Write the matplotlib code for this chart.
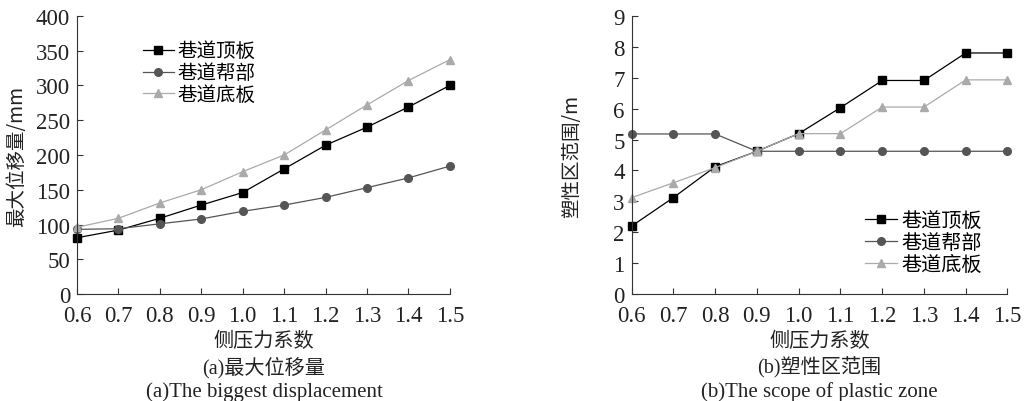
import matplotlib
matplotlib.use("Agg")
import matplotlib.pyplot as plt

plt.rcParams['font.family'] = ['Liberation Serif', 'Noto Sans CJK SC']
plt.rcParams['mathtext.fontset'] = 'stix'

k = [0.6, 0.7, 0.8, 0.9, 1.0, 1.1, 1.2, 1.3, 1.4, 1.5]
xtick_labels = ['0.6', '0.7', '0.8', '0.9', '1.0', '1.1', '1.2', '1.3', '1.4', '1.5']
series_names = ['巷道顶板', '巷道帮部', '巷道底板']

disp_roof = [81, 92, 109, 128, 146, 180, 214, 240, 269, 300]
disp_side = [93, 94, 101, 108, 119, 128, 139, 153, 167, 184]
disp_floor = [96, 109, 131, 150, 176, 200, 236, 272, 307, 337]

plastic_roof = [2.2, 3.12, 4.12, 4.62, 5.19, 6.03, 6.91, 6.91, 7.8, 7.8]
plastic_side = [5.18, 5.18, 5.18, 4.62, 4.62, 4.62, 4.62, 4.62, 4.62, 4.62]
plastic_floor = [3.12, 3.6, 4.09, 4.62, 5.19, 5.19, 6.05, 6.05, 6.93, 6.93]

colors = ['#000000', '#555555', '#aaaaaa']
markers = ['s', 'o', '^']
cjk = ['Noto Sans CJK SC']

fig = plt.figure(figsize=(10.27, 4.02), dpi=100)
ax1 = fig.add_axes([0.075, 0.266, 0.363, 0.692])
ax2 = fig.add_axes([0.615, 0.266, 0.366, 0.692])

def style(ax, ylim, yticks):
    ax.set_xlim(0.6, 1.5)
    ax.set_ylim(*ylim)
    ax.set_yticks(yticks)
    ax.set_xticks(k)
    ax.set_xticklabels(xtick_labels)
    for s in ['top', 'right']:
        ax.spines[s].set_visible(False)
    for s in ['left', 'bottom']:
        ax.spines[s].set_linewidth(0.8)
        ax.spines[s].set_color('#333333')
    ax.tick_params(direction='in', length=4, width=0.8, labelsize=16.5, colors='#333333', labelcolor='#222222')
    ax.tick_params(axis='x', pad=8)
    ax.tick_params(axis='y', pad=5)
    ax.set_xlabel('侧压力系数', fontsize=14.5, family=cjk, color='#222222', labelpad=3)

for d, c, m, n in zip([disp_roof, disp_side, disp_floor], colors, markers, series_names):
    ax1.plot(k, d, color=c, marker=m, markersize=5.5, linewidth=0.9, label=n, clip_on=False)
style(ax1, (0, 400), range(0, 401, 50))
ax1.set_ylabel('最大位移量/mm', fontsize=14, family=cjk, color='#222222', labelpad=6)
leg1 = ax1.legend(loc='upper left', bbox_to_anchor=(0.155, 0.94), frameon=False, handlelength=1.6,
                  handletextpad=0.2, labelspacing=0.05, borderaxespad=0, prop={'family': cjk, 'size': 14})

for d, c, m, n in zip([plastic_roof, plastic_side, plastic_floor], colors, markers, series_names):
    ax2.plot(k, d, color=c, marker=m, markersize=5.5, linewidth=0.9, label=n, clip_on=False)
style(ax2, (0, 9), range(0, 10))
ax2.set_ylabel('塑性区范围/m', fontsize=14, family=cjk, color='#222222', labelpad=22)
leg2 = ax2.legend(loc='upper left', bbox_to_anchor=(0.6, 0.33), frameon=False, handlelength=1.6,
                  handletextpad=0.2, labelspacing=0.05, borderaxespad=0, prop={'family': cjk, 'size': 14.5})

fig.text(0.257, 0.085, '(a)最大位移量', ha='center', va='center', fontsize=14.5,
         family=['Liberation Serif', 'Noto Sans CJK SC'], color='#222222')
fig.text(0.257, 0.025, '(a)The biggest displacement', ha='center', va='center', fontsize=15,
         family=['Liberation Serif'], color='#222222')
fig.text(0.798, 0.085, '(b)塑性区范围', ha='center', va='center', fontsize=14.5,
         family=['Liberation Serif', 'Noto Sans CJK SC'], color='#222222')
fig.text(0.798, 0.025, '(b)The scope of plastic zone', ha='center', va='center', fontsize=15,
         family=['Liberation Serif'], color='#222222')

fig.savefig('out.png', dpi=100)
